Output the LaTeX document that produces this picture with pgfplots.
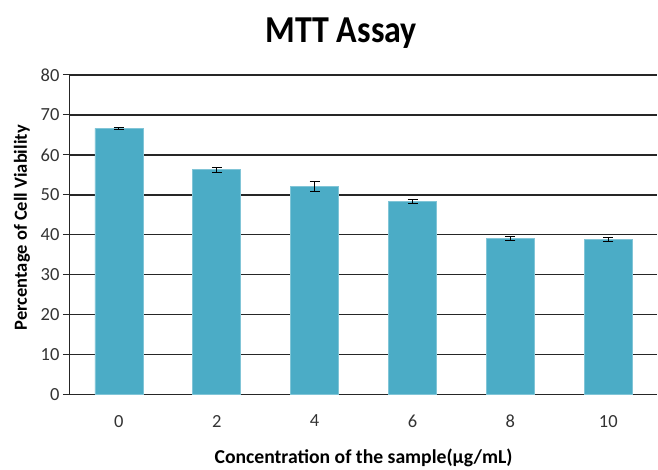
\documentclass[border=0pt]{standalone}
\usepackage{pgfplots}
\pgfplotsset{compat=1.18}
\usepackage{fontspec}
\setmainfont{Carlito}
\definecolor{barc}{HTML}{4BACC6}
\begin{document}
\begin{tikzpicture}
\begin{axis}[
  scale only axis, width=588pt, height=320pt,
  xmin=-0.5, xmax=5.5, ymin=0, ymax=80,
  axis x line*=bottom, axis y line*=left,
  axis line style={black!85, line width=1.1pt},
  ytick={0,10,...,80},
  xtick={0,1,2,3,4,5},
  xticklabels={0,2,4,6,8,10},
  minor xtick={-0.5,0.5,...,5.5},
  xtick style={draw=none},
  minor x tick style={black!85, line width=1.1pt},
  y tick style={black!85, line width=1.1pt},
  tick align=outside,
  major tick length=7pt, minor tick length=8pt,
  ymajorgrids, grid style={black!85, line width=1.5pt},
  /pgf/number format/assume math mode=true,
  tick label style={font=\fontsize{18.5}{21}\selectfont, text=black!80},
  xticklabel style={yshift=-10pt},
  title={\scalebox{1}[1.12]{MTT Assay}},
  title style={font=\bfseries\fontsize{34}{40}\selectfont, at={(axis description cs:0.462,1)}, anchor=south, yshift=17pt},
  ylabel={Percentage of Cell Viability},
  ylabel style={font=\bfseries\fontsize{18.5}{21}\selectfont, at={(axis description cs:-0.0816,0.522)}, anchor=center},
  xlabel={Concentration of the sample(μg/mL)},
  xlabel style={font=\bfseries\fontsize{19.7}{22}\selectfont, at={(axis description cs:0.5,-0.197)}, anchor=center},
  clip=false,
]
\addplot[ybar, bar width=48pt, fill=barc, draw=barc!70!white, line width=0.6pt,
  error bars/.cd, y dir=both, y explicit,
  error bar style={black, line width=1pt},
  error mark options={rotate=90, mark size=5pt, line width=1pt, black}]
  coordinates {
  (0,66.6) +- (0,0.2)
  (1,56.3) +- (0,0.6)
  (2,52.0) +- (0,1.2)
  (3,48.4) +- (0,0.5)
  (4,39.1) +- (0,0.5)
  (5,38.9) +- (0,0.5)
  };
\end{axis}
\path[use as bounding box] (-70pt,-73pt) rectangle (588pt,395pt);
\end{tikzpicture}
\end{document}
